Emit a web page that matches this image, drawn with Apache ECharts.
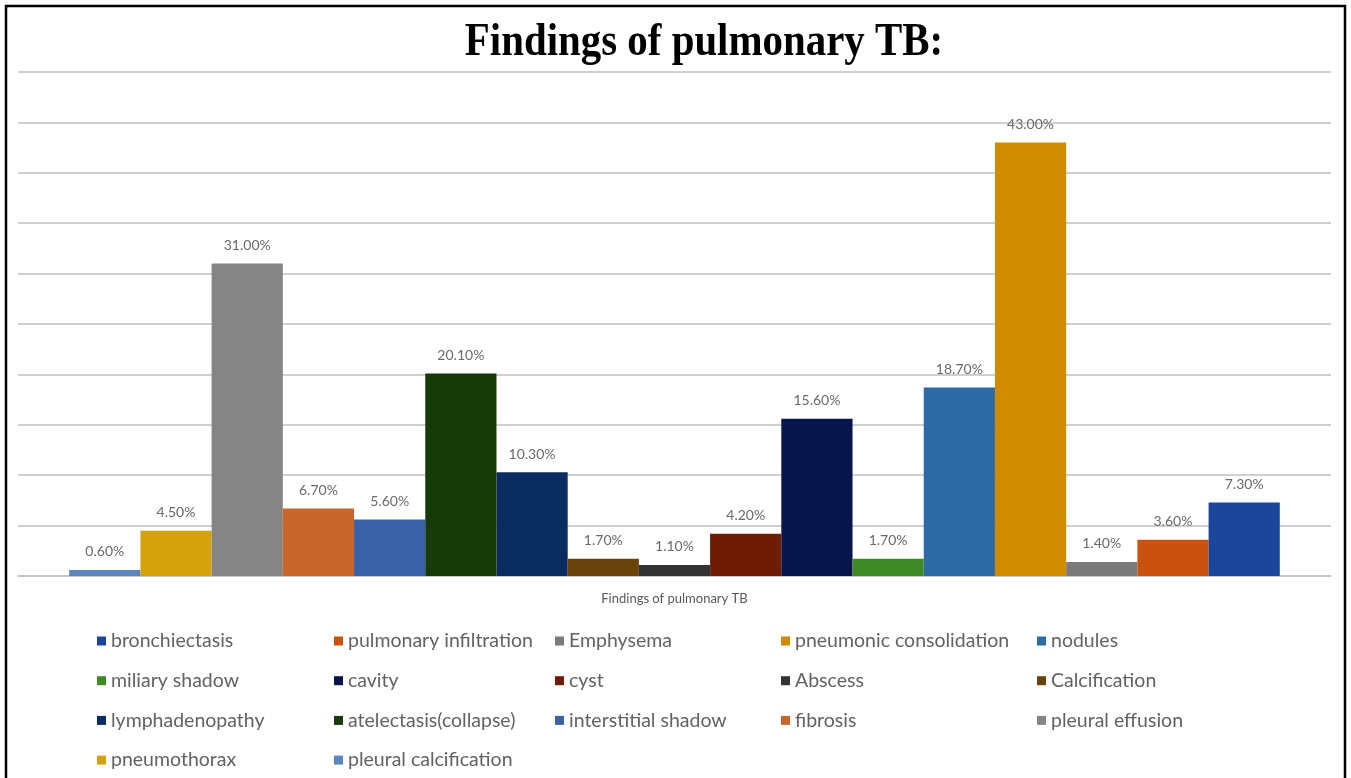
<!DOCTYPE html>
<html>
<head>
<meta charset="utf-8">
<script src="https://cdn.jsdelivr.net/npm/echarts@6/dist/echarts.min.js"></script>
<style>
html,body{margin:0;padding:0;background:#fff;}
#chart{width:1351px;height:778px;}
</style>
</head>
<body>
<div id="chart"></div>
<script>
// Legend order
const names = ['bronchiectasis','pulmonary infiltration','Emphysema','pneumonic consolidation','nodules',
  'miliary shadow','cavity','cyst','Abscess','Calcification',
  'lymphadenopathy','atelectasis(collapse)','interstitial shadow','fibrosis','pleural effusion',
  'pneumothorax','pleural calcification'];
const values = [7.3, 3.6, 1.4, 43.0, 18.7, 1.7, 15.6, 4.2, 1.1, 1.7, 10.3, 20.1, 5.6, 6.7, 31.0, 4.5, 0.6];
const colors = ['#1b469c','#c9520e','#7b7b7b','#cf8c00','#2e6aa6',
  '#3f8a24','#08154a','#6f1b06','#333333','#6a420c',
  '#0b2c5e','#173a08','#3a62a6','#c8672c','#858585',
  '#d4a20a','#5b87bd'];
const category = ['Findings of pulmonary TB'];
const titleText = 'Findings of pulmonary TB:';

const legendCols = [
  ['bronchiectasis','miliary shadow','lymphadenopathy','pneumothorax'],
  ['pulmonary infiltration','cavity','atelectasis(collapse)','pleural calcification'],
  ['Emphysema','cyst','interstitial shadow'],
  ['pneumonic consolidation','Abscess','fibrosis'],
  ['nodules','Calcification','pleural effusion']
];
const legendX = [97, 334, 555, 781, 1037];

const chart = echarts.init(document.getElementById('chart'));
const order = names.map((n,i)=>i).reverse();
const series = order.map(i => ({
  name: names[i],
  type: 'bar',
  data: [values[i]],
  itemStyle: {color: colors[i]},
  barGap: '0%',
  barCategoryGap: '7.8%',
  label: {
    show: true, position: 'top', distance: 11,
    formatter: p => p.value.toFixed(2) + '%',
    fontFamily: 'Lato', fontSize: 14, color: '#6a6a6a'
  }
}));

chart.setOption({
  animation: false,
  backgroundColor: '#fff',
  grid: {left: 18, right: 20, top: 72, bottom: 202},
  xAxis: {
    type: 'category', data: category,
    axisLine: {show: true, lineStyle: {color: '#c0c0c0', width: 1.5}},
    axisTick: {show: false}, axisLabel: {show: false},
    name: category[0], nameLocation: 'middle', nameGap: 16,
    nameTextStyle: {fontFamily: 'Lato', fontSize: 13, color: '#595959'}
  },
  yAxis: {
    type: 'value', min: 0, max: 50, interval: 5,
    axisLine: {show: false}, axisTick: {show: false}, axisLabel: {show: false},
    splitLine: {lineStyle: {color: '#c0c0c0', width: 1.5}}
  },
  legend: legendCols.map((col, k) => ({
    orient: 'vertical', left: legendX[k], top: 631, height: 200, padding: 0,
    data: col, itemWidth: 9, itemHeight: 9, itemGap: 19.7, icon: 'rect',
    selectedMode: false,
    textStyle: {fontFamily: 'Lato', fontSize: 19.5, color: '#626262', lineHeight: 20}
  })),
  graphic: [
    {type: 'rect', shape: {x: 6, y: 6, width: 1339, height: 800},
     style: {fill: 'none', stroke: '#000', lineWidth: 2.5}, silent: true},
    {type: 'text', x: 704, y: 43, scaleX: 0.87,
     style: {text: titleText, font: 'bold 47px "Liberation Serif"', fill: '#000',
       align: 'center', verticalAlign: 'middle', textAlign: 'center', textVerticalAlign: 'middle'}}
  ],
  series: series
});
</script>
</body>
</html>
